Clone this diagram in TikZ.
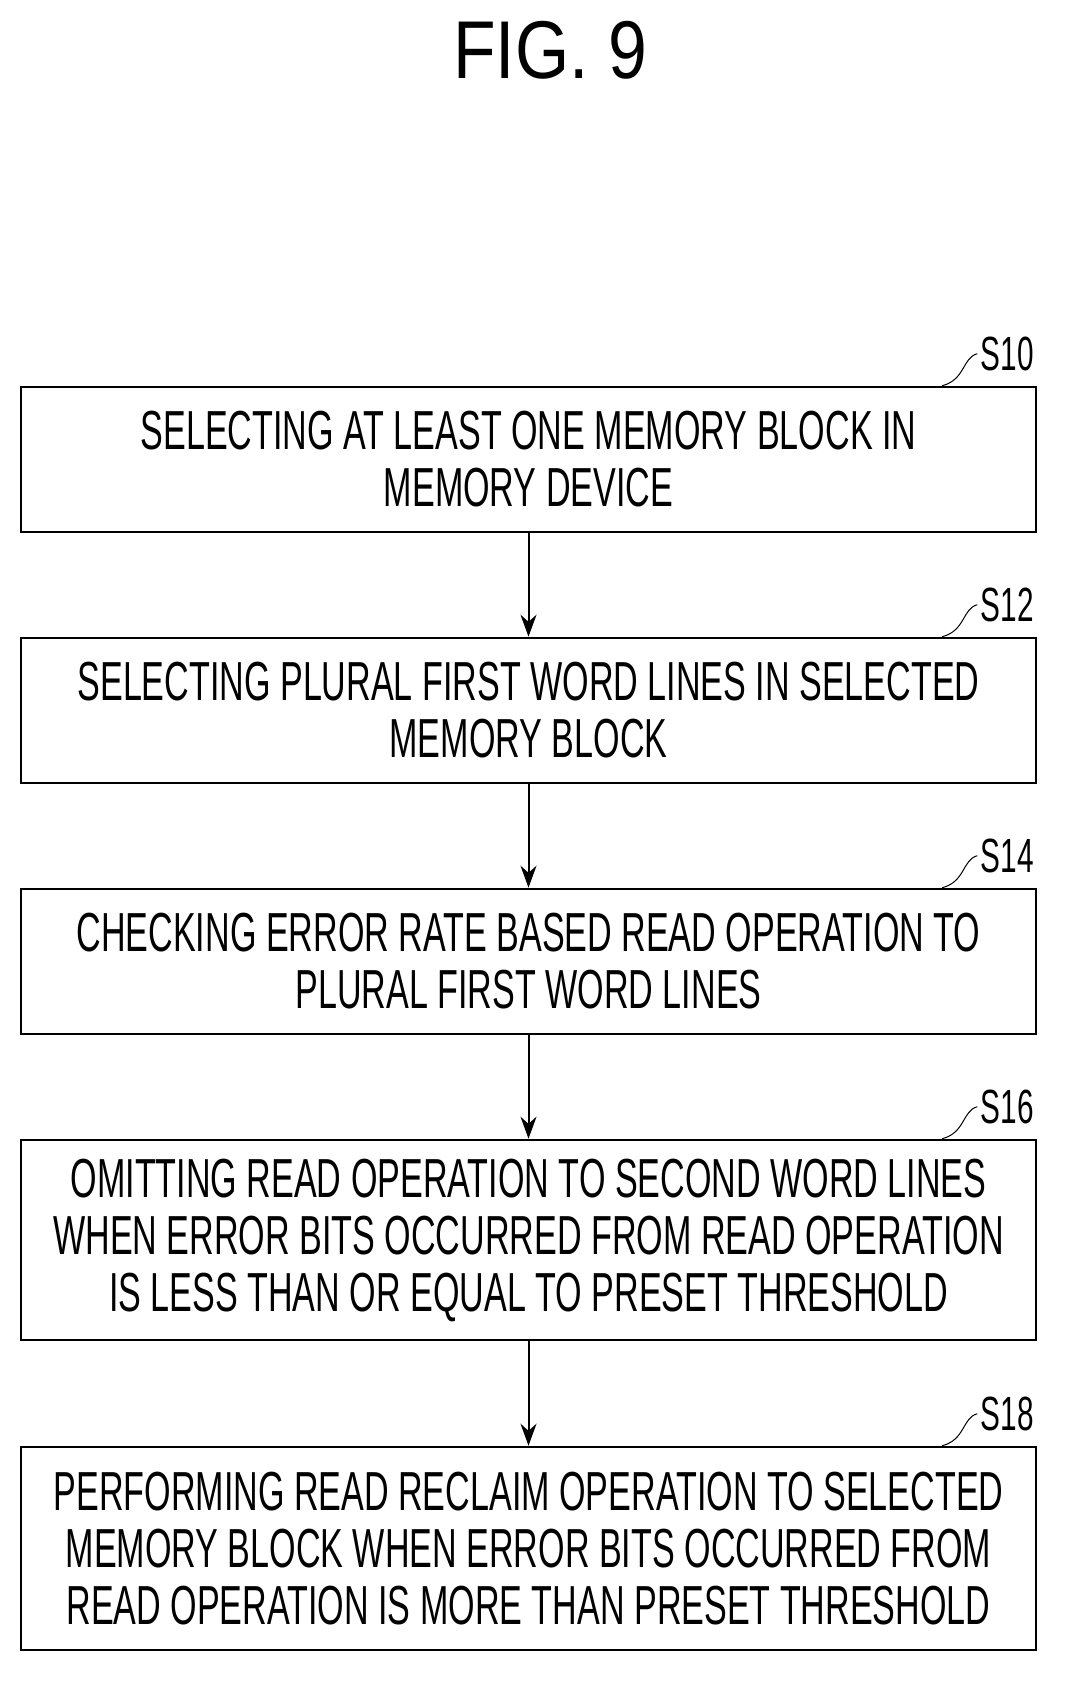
\documentclass[tikz,border=0pt]{standalone}
\usepackage{fontspec}
\setmainfont[FakeStretch=0.62]{Liberation Sans}
\newfontfamily\titlefont[FakeStretch=0.85]{Liberation Sans}
\usetikzlibrary{arrows.meta}
\begin{document}
\begin{tikzpicture}[x=1pt,y=-1pt,
  stepbox/.style={draw,line width=2.6pt,minimum width=1015pt,align=center,
    font=\fontsize{55}{57}\selectfont,inner sep=0pt},
  tag/.style={font=\fontsize{48}{48}\selectfont},
  flow/.style={-{Stealth[length=22pt,width=16pt]},line width=2pt}]
\useasboundingbox (0,0) rectangle (1068,1681);
\node[font=\titlefont\fontsize{82}{82}\selectfont] (title) at (550,50) {FIG. 9};
% steps
\node[stepbox,minimum height=145pt] (s10) at (528.5,459.5) {SELECTING AT LEAST ONE MEMORY BLOCK IN\\MEMORY DEVICE};
\node[stepbox,minimum height=145pt] (s12) at (528.5,710.5) {SELECTING PLURAL FIRST WORD LINES IN SELECTED\\MEMORY BLOCK};
\node[stepbox,minimum height=145pt] (s14) at (528.5,961.5) {CHECKING ERROR RATE BASED READ OPERATION TO\\PLURAL FIRST WORD LINES};
\node[stepbox,minimum height=200pt] (s16) at (528.5,1240) {OMITTING READ OPERATION TO SECOND WORD LINES\\WHEN ERROR BITS OCCURRED FROM READ OPERATION\\IS LESS THAN OR EQUAL TO PRESET THRESHOLD};
\node[stepbox,minimum height=203pt] (s18) at (528.5,1548.5) {PERFORMING READ RECLAIM OPERATION TO SELECTED\\MEMORY BLOCK WHEN ERROR BITS OCCURRED FROM\\READ OPERATION IS MORE THAN PRESET THRESHOLD};
% labels
\foreach \s/\t in {s10/S10,s12/S12,s14/S14,s16/S16,s18/S18}{
  \node[tag,anchor=west] (l\s) at ([xshift=-60pt,yshift=32pt]\s.north east) {\t};
  \draw[line width=1pt] ([xshift=-95pt]\s.north east) .. controls ([xshift=-72pt,yshift=6pt]\s.north east) and ([xshift=-75pt,yshift=28pt]\s.north east) .. (l\s.west);
}
\draw[flow] (s10) -- (s12);
\draw[flow] (s12) -- (s14);
\draw[flow] (s14) -- (s16);
\draw[flow] (s16) -- (s18);
\end{tikzpicture}
\end{document}
